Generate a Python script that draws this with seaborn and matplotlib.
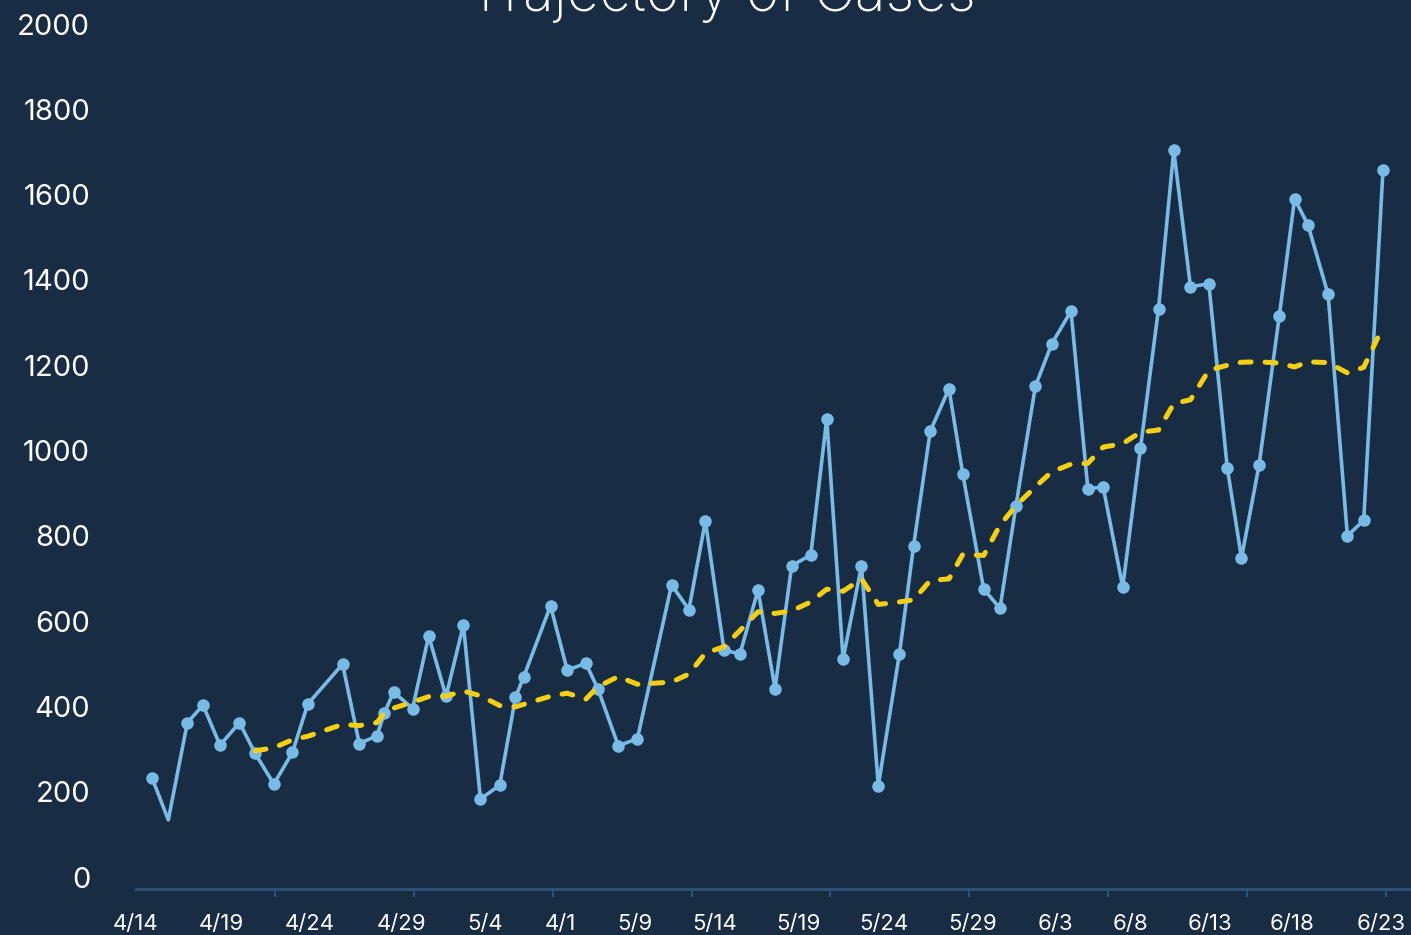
import matplotlib
matplotlib.use("Agg")
import matplotlib.pyplot as plt
import pandas as pd
import seaborn as sns

# day offset from 4/14 for each report (points are not evenly spaced)
days = [0.92, 1.86, 2.96, 3.86, 4.84, 5.96, 6.86, 7.94, 9.01, 9.90,
        11.90, 12.86, 13.88, 14.30, 14.84, 15.93, 16.86, 17.86, 18.86, 19.84,
        20.95, 21.86, 22.34, 23.88, 24.84, 25.91, 26.60, 27.78, 28.88, 30.85,
        31.85, 32.80, 33.87, 34.79, 35.83, 36.81, 37.77, 38.87, 39.79, 40.73,
        41.79, 42.76, 43.98, 44.79, 45.75, 46.83, 47.62, 48.83, 49.77, 50.69,
        51.81, 52.75, 53.86, 54.83, 55.71, 56.84, 57.86, 58.90, 59.78, 60.74,
        61.80, 62.86, 63.68, 64.69, 65.86, 66.74, 67.51, 68.67, 69.78, 70.72,
        71.83]
cases = [233, 134, 362, 403, 309, 362, 290, 218, 292, 406,
         499, 313, 331, 384, 434, 395, 565, 424, 591, 183,
         215, 421, 470, 636, 485, 501, 442, 308, 324, 685,
         627, 835, 532, 523, 673, 442, 730, 755, 1075, 511,
         730, 214, 524, 776, 1045, 1145, 946, 675, 630, 871,
         1151, 1250, 1327, 910, 915, 680, 1005, 1332, 1704, 1384,
         1391, 960, 748, 965, 1316, 1590, 1529, 1366, 800, 836,
         1657]
# rolling average starts at the 7th report
avg_days = days[6:]
avg_cases = [296, 303, 322, 330, 358, 355, 362, 385, 396, 410,
             423, 424, 436, 425, 402, 399, 405, 424, 431, 417,
             446, 470, 452, 457, 476, 525, 540, 578, 622, 618,
             624, 645, 675, 670, 699, 639, 645, 650, 695, 699,
             756, 754, 825, 871, 915, 950, 968, 970, 1008, 1016,
             1043, 1048, 1110, 1119, 1188, 1200, 1207, 1208, 1205, 1196,
             1208, 1206, 1182, 1195, 1290]

x_labels = ["4/14", "4/19", "4/24", "4/29", "5/4", "4/1", "5/9", "5/14",
            "5/19", "5/24", "5/29", "6/3", "6/8", "6/13", "6/18", "6/23"]
y_ticks = list(range(0, 2001, 200))

# layout
label_pos = [0, 4.90, 10.03, 15.28, 20.13, 24.45, 28.72, 33.33,
             38.18, 43.08, 48.21, 52.94, 57.27, 61.88, 66.61, 71.74]
tick_marks = list(range(0, 73, 8))

BG = "#182c43"
BLUE = "#78bbe7"
YELLOW = "#f4d010"
AXIS = "#2c5478"

sns.set_style("dark", {"axes.facecolor": BG, "figure.facecolor": BG})
plt.rcParams["font.family"] = ["Inter", "DejaVu Sans"]

df = pd.DataFrame({"day": days, "cases": cases})
avg = pd.DataFrame({"day": avg_days, "cases": avg_cases})

fig = plt.figure(figsize=(14.11, 9.35), dpi=100)
ax = fig.add_axes([136 / 1411, 46 / 935, 1275 / 1411, 889 / 935])

marks = [i for i in range(len(days)) if i != 1]
sns.lineplot(data=df, x="day", y="cases", ax=ax, color=BLUE, lw=2.6,
             marker="o", markersize=9, markeredgewidth=0, markevery=marks)
sns.lineplot(data=avg, x="day", y="cases", ax=ax, color=YELLOW, lw=3.6,
             linestyle=(0, (2.2, 2.8)), dash_capstyle="round")

ax.set_xlim(0, 1275 / 17.36)
ax.set_ylim(-28.1, 2056.3)
ax.grid(False)
ax.set_xlabel("")
ax.set_ylabel("")

for s in ["left", "top", "right"]:
    ax.spines[s].set_visible(False)
ax.spines["bottom"].set_color(AXIS)
ax.spines["bottom"].set_linewidth(2)

ax.set_xticks(label_pos, x_labels)
ax.set_xticks(tick_marks, minor=True)
ax.tick_params(axis="x", which="major", length=0, pad=18, labelsize=16,
               labelcolor="white")
ax.tick_params(axis="x", which="minor", bottom=True, length=6, width=1.5,
               color=AXIS)
ax.set_yticks(y_ticks, [str(v) for v in y_ticks])
ax.tick_params(axis="y", length=0, pad=33, labelsize=21, labelcolor="white")

fig.text(722 / 1411, 1 - 11 / 935, "Trajectory of Cases", ha="center",
         va="baseline", fontsize=41, color="white", fontweight="light")

fig.savefig("out.png", dpi=100, facecolor=BG)
